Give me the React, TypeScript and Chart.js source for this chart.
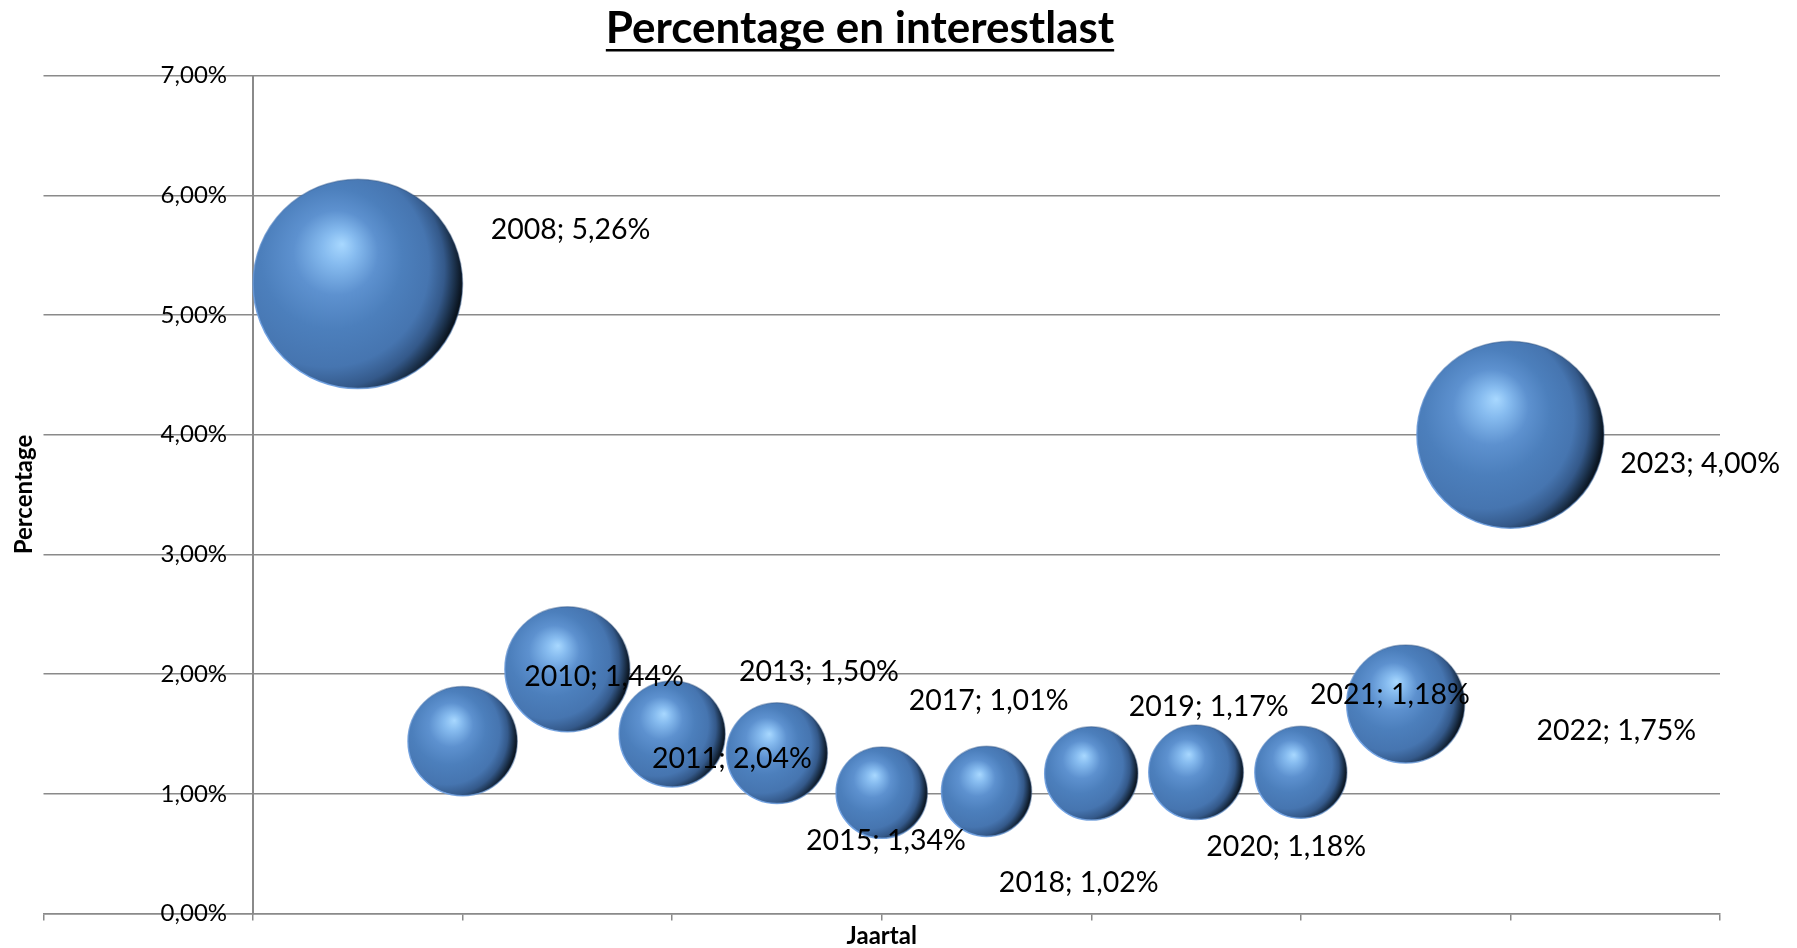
import React, { useEffect, useRef } from 'react';
import { Chart, registerables } from 'chart.js';

Chart.register(...registerables);

// ---- data ----
const years = ['2008', '2010', '2011', '2013', '2015', '2017', '2018', '2019', '2020', '2021', '2022', '2023'];
const percentages = [5.26, 1.44, 2.04, 1.5, 1.34, 1.01, 1.02, 1.17, 1.18, 1.18, 1.75, 4.0];
const interestlast = [100, 27.2, 35.6, 25.6, 23.2, 19.0, 18.5, 19.8, 20.4, 19.3, 31.7, 79.7];
// data label anchors (in axis units, as placed in the original chart)
const labelAnchorX = [3.03, 3.35, 4.57, 5.4, 6.04, 7.02, 7.88, 9.12, 9.86, 10.85, 13.01, 13.81];
const labelAnchorY = [5.71, 1.98, 1.29, 2.02, 0.61, 1.78, 0.26, 1.73, 0.56, 1.83, 1.53, 3.76];
const yTickValues = [0, 1, 2, 3, 4, 5, 6, 7];
const yTickLabels = ['0,00%', '1,00%', '2,00%', '3,00%', '4,00%', '5,00%', '6,00%', '7,00%'];
const chartTitle = 'Percentage en interestlast';
const xTitle = 'Jaartal';
const yTitle = 'Percentage';

// ---- style ----
const FONT = 'Lato, "Open Sans", sans-serif';
const GRID = '#8a8a8a';
const BASE = '#4a7ebb';
const maxInterest = Math.max(...interestlast);

const fmt = (v: number) => v.toFixed(2).replace('.', ',') + '%';

function pointGeom(c: any) {
  const chart = c.chart;
  const raw = c.raw;
  if (!chart || !chart.chartArea || !raw || !raw.r || !chart.scales || !chart.scales.x) return null;
  const cx = chart.scales.x.getPixelForValue(raw.x);
  const cy = chart.scales.y.getPixelForValue(raw.y);
  if (!isFinite(cx) || !isFinite(cy)) return null;
  return { cx, cy, r: raw.r, ctx: chart.ctx };
}

function sphereFill(c: any) {
  const p = pointGeom(c);
  if (!p) return BASE;
  const { cx, cy, r, ctx } = p;
  const g = ctx.createRadialGradient(cx - 0.15 * r, cy - 0.38 * r, 0, cx - 0.35 * r, cy - 0.1 * r, 1.35 * r);
  g.addColorStop(0, '#a8d8ff');
  g.addColorStop(0.12, '#86bbef');
  g.addColorStop(0.3, '#5d91cf');
  g.addColorStop(0.5, '#4c7fbc');
  g.addColorStop(0.72, '#4675b0');
  g.addColorStop(0.85, '#34598a');
  g.addColorStop(0.93, '#1d3450');
  g.addColorStop(1, '#09121c');
  return g;
}

function sphereRim(c: any) {
  const p = pointGeom(c);
  if (!p) return BASE;
  const { cx, cy, r, ctx } = p;
  const g = ctx.createLinearGradient(cx - 0.7 * r, cy + 0.7 * r, cx + 0.7 * r, cy - 0.7 * r);
  g.addColorStop(0, 'rgba(112,162,228,0.95)');
  g.addColorStop(0.45, 'rgba(80,128,190,0.6)');
  g.addColorStop(1, 'rgba(40,70,110,0.35)');
  return g;
}

const textPlugin = {
  id: 'excelText',
  afterDatasetsDraw(chart: any) {
    const { ctx, scales, chartArea } = chart;
    const xs = scales.x;
    const ys = scales.y;
    ctx.save();
    ctx.fillStyle = '#000';

    // y tick labels, next to the vertical axis
    ctx.font = `24px ${FONT}`;
    ctx.textAlign = 'right';
    ctx.textBaseline = 'middle';
    const axisX = xs.getPixelForValue(0);
    yTickValues.forEach((v, i) => {
      ctx.fillText(yTickLabels[i], axisX - 26, ys.getPixelForValue(v));
    });

    // y axis title
    ctx.save();
    ctx.translate(24, (chartArea.top + chartArea.bottom) / 2);
    ctx.rotate(-Math.PI / 2);
    ctx.font = `bold 24px ${FONT}`;
    ctx.textAlign = 'center';
    ctx.textBaseline = 'middle';
    ctx.fillText(yTitle, 0, 0);
    ctx.restore();

    // data labels
    ctx.font = `28.5px ${FONT}`;
    ctx.textAlign = 'center';
    ctx.textBaseline = 'middle';
    years.forEach((yr, i) => {
      ctx.fillText(`${yr}; ${fmt(percentages[i])}`, xs.getPixelForValue(labelAnchorX[i]), ys.getPixelForValue(labelAnchorY[i]));
    });

    // chart title, underlined
    ctx.font = `bold 44px ${FONT}`;
    ctx.textAlign = 'center';
    ctx.textBaseline = 'alphabetic';
    const tx = 860;
    const ty = 43;
    ctx.fillText(chartTitle, tx, ty);
    const w = ctx.measureText(chartTitle).width;
    ctx.fillRect(tx - w / 2, ty + 6, w, 2.5);
    ctx.restore();
  },
};

export default function App() {
  const ref = useRef<HTMLCanvasElement>(null);
  useEffect(() => {
    if (!ref.current) return;
    const points: any[] = years.map((_, i) => ({ x: i + 1, y: percentages[i] }));
    const chart = new Chart(ref.current, {
      type: 'bubble',
      data: {
        datasets: [
          {
            label: 'Percentage',
            data: points,
            backgroundColor: sphereFill,
            borderColor: sphereRim,
            borderWidth: 1.5,
          } as any,
        ],
      },
      options: {
        responsive: true,
        maintainAspectRatio: false,
        animation: false,
        events: [],
        layout: { autoPadding: false, padding: { left: 43.5, right: 77, top: 75.6, bottom: 0 } },
        plugins: {
          legend: { display: false },
          tooltip: { enabled: false },
          title: { display: false },
        },
        scales: {
          x: {
            type: 'linear',
            min: -2,
            max: 14,
            ticks: { stepSize: 2, display: false },
            grid: { drawOnChartArea: false, drawTicks: true, tickLength: 7, color: GRID, lineWidth: 1.5 },
            border: { display: true, color: GRID, width: 1.5 },
            title: {
              display: true,
              text: xTitle,
              color: '#000',
              font: { family: FONT, size: 24, weight: 'bold', lineHeight: 1 },
              padding: { top: 3.5, bottom: 0 },
            },
          },
          y: {
            type: 'linear',
            position: { x: 0 },
            min: 0,
            max: 7,
            ticks: { stepSize: 1, display: false },
            grid: { color: GRID, lineWidth: 1.5, drawTicks: false },
            border: { display: true, color: GRID, width: 2 },
          },
        } as any,
      },
      plugins: [textPlugin],
    });
    // bubble size (area) proportional to interestlast; the largest bubble spans 25% of the plot's smaller side
    const a = chart.chartArea;
    const rMax = 0.125 * Math.min(a.width, a.height);
    (chart.data.datasets[0].data as any[]).forEach((p, i) => {
      p.r = rMax * Math.sqrt(interestlast[i] / maxInterest);
    });
    chart.update();
    return () => chart.destroy();
  }, []);

  return (
    <div style={{ position: 'fixed', left: 0, top: 0, width: 1797, height: 948, background: '#fff' }}>
      <canvas ref={ref} />
    </div>
  );
}
